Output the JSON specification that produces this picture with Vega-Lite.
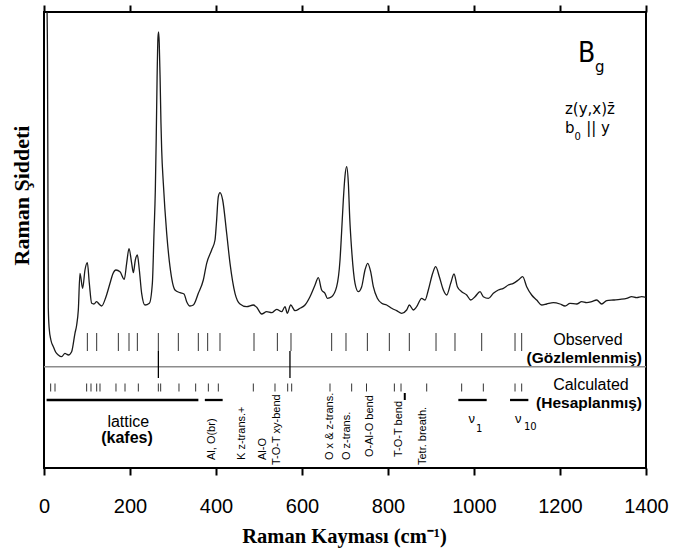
{
  "$schema": "https://vega.github.io/schema/vega-lite/v6.json",
  "width": 602,
  "height": 456,
  "autosize": {"type": "none"},
  "padding": {"left": 44, "top": 12, "right": 31, "bottom": 82},
  "background": "white",
  "config": {
    "view": {"stroke": "black", "strokeWidth": 2},
    "axis": {"grid": false, "domain": false, "tickColor": "black", "tickWidth": 2, "tickSize": 7}
  },
  "datasets": {
    "spectrum": [
      {"v": 6.5, "I": 470}, {"v": 8, "I": 420}, {"v": 9, "I": 300}, {"v": 10, "I": 160}, {"v": 12, "I": 140},
      {"v": 16, "I": 128}, {"v": 21.7, "I": 121.3}, {"v": 27, "I": 116}, {"v": 33.3, "I": 113}, {"v": 41, "I": 111.3},
      {"v": 48.8, "I": 114.7}, {"v": 52, "I": 114}, {"v": 56.6, "I": 113}, {"v": 64.3, "I": 116.3}, {"v": 72, "I": 134.7},
      {"v": 76, "I": 143}, {"v": 79.8, "I": 158}, {"v": 83.7, "I": 194.7}, {"v": 89.9, "I": 179.7}, {"v": 95.3, "I": 198},
      {"v": 100.8, "I": 205.3}, {"v": 105.4, "I": 184.7}, {"v": 110.9, "I": 164.7}, {"v": 116, "I": 164}, {"v": 122.5, "I": 166.3},
      {"v": 128, "I": 164}, {"v": 134.1, "I": 162}, {"v": 144.2, "I": 171.3}, {"v": 153.5, "I": 184.7}, {"v": 160, "I": 194},
      {"v": 167.4, "I": 198}, {"v": 176.7, "I": 196.3}, {"v": 186.8, "I": 188.7}, {"v": 192.2, "I": 204.7}, {"v": 197.7, "I": 219.3},
      {"v": 203.9, "I": 204.7}, {"v": 207.8, "I": 195.3}, {"v": 212.4, "I": 208}, {"v": 217.1, "I": 213}, {"v": 221.7, "I": 198},
      {"v": 227.1, "I": 174.7}, {"v": 234.9, "I": 163}, {"v": 245, "I": 164.7}, {"v": 252, "I": 184.7}, {"v": 255.8, "I": 234.7},
      {"v": 258.9, "I": 278}, {"v": 261, "I": 330}, {"v": 263, "I": 390}, {"v": 265, "I": 430}, {"v": 266.5, "I": 436},
      {"v": 268, "I": 425}, {"v": 270, "I": 390}, {"v": 272, "I": 345}, {"v": 273.7, "I": 318}, {"v": 277.5, "I": 284.7},
      {"v": 285.3, "I": 234.7}, {"v": 293, "I": 201.3}, {"v": 304.6, "I": 178}, {"v": 316.3, "I": 175.3}, {"v": 325.6, "I": 174},
      {"v": 331.8, "I": 166.3}, {"v": 339.5, "I": 162}, {"v": 347.3, "I": 163}, {"v": 358.9, "I": 174.7}, {"v": 370.5, "I": 188},
      {"v": 378.3, "I": 204.7}, {"v": 389.9, "I": 218}, {"v": 397.7, "I": 228}, {"v": 401, "I": 245}, {"v": 405.4, "I": 271.3},
      {"v": 409.3, "I": 275.3}, {"v": 415.5, "I": 268}, {"v": 424.8, "I": 234.7}, {"v": 432.6, "I": 204.7}, {"v": 444.2, "I": 174.7},
      {"v": 455.8, "I": 164}, {"v": 471.3, "I": 161.3}, {"v": 486.8, "I": 163}, {"v": 494.6, "I": 160.7}, {"v": 506.2, "I": 154},
      {"v": 517.8, "I": 156.3}, {"v": 529.5, "I": 155.3}, {"v": 541.1, "I": 158.7}, {"v": 552.7, "I": 156.3}, {"v": 560.5, "I": 161.3},
      {"v": 565.9, "I": 154.7}, {"v": 573.7, "I": 163}, {"v": 583.7, "I": 157.3}, {"v": 595.4, "I": 159.7}, {"v": 607, "I": 163},
      {"v": 618.6, "I": 171.3}, {"v": 630.3, "I": 183}, {"v": 638, "I": 190.3}, {"v": 645.7, "I": 178}, {"v": 653.5, "I": 174.7},
      {"v": 658.9, "I": 169.7}, {"v": 669, "I": 171.3}, {"v": 680.6, "I": 181.3}, {"v": 688.4, "I": 208}, {"v": 692, "I": 235},
      {"v": 696.1, "I": 268}, {"v": 700, "I": 292}, {"v": 703.9, "I": 301.3}, {"v": 707.8, "I": 284.7}, {"v": 711, "I": 250},
      {"v": 715.5, "I": 218}, {"v": 723.3, "I": 184.7}, {"v": 731, "I": 176.3}, {"v": 738.8, "I": 181.3}, {"v": 746.5, "I": 198},
      {"v": 752.7, "I": 204.7}, {"v": 759.7, "I": 196.3}, {"v": 765.9, "I": 181.3}, {"v": 775.2, "I": 169.7}, {"v": 785.3, "I": 164.7},
      {"v": 796.9, "I": 163}, {"v": 808.6, "I": 159.7}, {"v": 820.2, "I": 157.3}, {"v": 831.8, "I": 154.7}, {"v": 843.4, "I": 158},
      {"v": 849.6, "I": 163}, {"v": 859, "I": 158}, {"v": 866.7, "I": 161.3}, {"v": 878.3, "I": 169.7}, {"v": 886.1, "I": 168},
      {"v": 893.8, "I": 178}, {"v": 903.9, "I": 194.7}, {"v": 910.9, "I": 201.3}, {"v": 919.4, "I": 191.3}, {"v": 928.7, "I": 178},
      {"v": 936.5, "I": 173}, {"v": 945.8, "I": 184.7}, {"v": 953.5, "I": 194}, {"v": 961.3, "I": 181.3}, {"v": 971.3, "I": 176.3},
      {"v": 983, "I": 173}, {"v": 992.3, "I": 168}, {"v": 1002.4, "I": 171.3}, {"v": 1014, "I": 176.3}, {"v": 1021.7, "I": 171.3},
      {"v": 1033.4, "I": 169.7}, {"v": 1045, "I": 174.7}, {"v": 1056.6, "I": 178}, {"v": 1068.3, "I": 179.7}, {"v": 1079.9, "I": 183},
      {"v": 1091.5, "I": 184.7}, {"v": 1103.1, "I": 188}, {"v": 1113.2, "I": 191.3}, {"v": 1122.5, "I": 181.3}, {"v": 1134.1, "I": 173},
      {"v": 1145.8, "I": 168}, {"v": 1157.4, "I": 163}, {"v": 1169, "I": 164}, {"v": 1184.5, "I": 165.3}, {"v": 1200, "I": 164},
      {"v": 1211.7, "I": 162}, {"v": 1223.3, "I": 164.7}, {"v": 1238.8, "I": 164}, {"v": 1250.4, "I": 166.3}, {"v": 1262.1, "I": 165.3},
      {"v": 1273.7, "I": 166.3}, {"v": 1285.3, "I": 168}, {"v": 1297, "I": 164}, {"v": 1308.6, "I": 167.3}, {"v": 1324.1, "I": 168},
      {"v": 1339.6, "I": 168.7}, {"v": 1355.1, "I": 169.7}, {"v": 1366.7, "I": 171.3}, {"v": 1378.3, "I": 170.3}, {"v": 1390, "I": 171.3},
      {"v": 1400, "I": 170.7}
    ],
    "observed": [
      {"v": 100.8}, {"v": 122.5}, {"v": 172.9}, {"v": 197.7}, {"v": 217.1}, {"v": 265.9}, {"v": 312.4}, {"v": 358.9},
      {"v": 380.6}, {"v": 409.3}, {"v": 488.4}, {"v": 542.7}, {"v": 574.4}, {"v": 669}, {"v": 702.3}, {"v": 752},
      {"v": 803.1}, {"v": 849.6}, {"v": 911.7}, {"v": 955.8}, {"v": 1017.9}, {"v": 1095.4}, {"v": 1110.9}
    ],
    "calculated": [
      {"v": 15.5}, {"v": 25.6}, {"v": 99.2}, {"v": 109.3}, {"v": 122.5}, {"v": 130.2}, {"v": 167.4}, {"v": 188.4},
      {"v": 219.4}, {"v": 265.9}, {"v": 271.3}, {"v": 313.9}, {"v": 352.7}, {"v": 382.2}, {"v": 405.4}, {"v": 486.8},
      {"v": 537.2}, {"v": 566.7}, {"v": 576}, {"v": 665.1}, {"v": 715.5}, {"v": 750}, {"v": 814.8}, {"v": 830.3},
      {"v": 890}, {"v": 971.3}, {"v": 1021.7}, {"v": 1095.4}, {"v": 1110.9}
    ],
    "crossing": [{"v": 266}, {"v": 572}],
    "bars": [
      {"group": "lattice", "v": 6, "v2": 359},
      {"group": "Al, O(br)", "v": 374, "v2": 415.5},
      {"group": "v1", "v": 963.6, "v2": 1029.5},
      {"group": "v10", "v": 1083.8, "v2": 1126.4}
    ],
    "rotlabels": [
      {"label": "Al,  O(br)", "v": 391.5, "y": 8},
      {"label": "K  z-trans.+", "v": 461, "y": 8},
      {"label": "Al-O", "v": 510, "y": 8},
      {"label": "T-O-T xy-bend", "v": 541, "y": 3},
      {"label": "O x & z-trans.", "v": 665, "y": 8},
      {"label": "O  z-trans.", "v": 705, "y": 8},
      {"label": "O-Al-O bend", "v": 758, "y": 11},
      {"label": "T-O-T bend", "v": 826, "y": 11},
      {"label": "Tetr.  breath.", "v": 882, "y": 3}
    ]
  },
  "layer": [
    {
      "data": {"name": "spectrum"},
      "mark": {"type": "line", "color": "#1a1a1a", "strokeWidth": 1.3, "clip": true, "interpolate": "monotone"},
      "encoding": {
        "x": {"field": "v", "type": "quantitative", "scale": {"domain": [0, 1400], "nice": false},
          "axis": {"orient": "bottom", "values": [0, 200, 400, 600, 800, 1000, 1200, 1400], "format": "d", "labelFont": "Liberation Sans", "labelFontSize": 20, "labelColor": "black", "labelPadding": 21, "labelFlush": false,
            "title": "Raman Kayması (cm⁻¹)", "titleFont": "Liberation Serif", "titleFontWeight": "bold", "titleFontSize": 20.5, "titleColor": "black", "titleX": 300, "titleY": 74, "titleBaseline": "alphabetic", "titleAlign": "center"}},
        "y": {"field": "I", "type": "quantitative", "scale": {"domain": [0, 456], "nice": false},
          "axis": {"labels": false, "ticks": false, "title": "Raman Şiddeti", "titleFont": "Liberation Serif", "titleFontWeight": "bold", "titleFontSize": 22, "titleColor": "black", "titleX": -23, "titleY": 183, "titleBaseline": "middle", "titleAlign": "center", "titleAngle": 270}}
      }
    },
    {
      "data": {"name": "observed"},
      "mark": {"type": "rule", "color": "#333", "strokeWidth": 1},
      "encoding": {
        "x": {"field": "v", "type": "quantitative", "axis": {"orient": "top", "labels": false, "title": null, "values": [0, 200, 400, 600, 800, 1000, 1200, 1400]}},
        "y": {"datum": 117, "type": "quantitative", "axis": null},
        "y2": {"datum": 135}
      }
    },
    {
      "data": {"name": "calculated"},
      "mark": {"type": "rule", "color": "#333", "strokeWidth": 1},
      "encoding": {
        "x": {"field": "v", "type": "quantitative", "axis": null},
        "y": {"datum": 76.5, "type": "quantitative", "axis": null},
        "y2": {"datum": 84.5}
      }
    },
    {
      "data": {"values": [{"from": 0, "to": 1400}]},
      "mark": {"type": "rule", "color": "#8c8c8c", "strokeWidth": 1.6},
      "encoding": {
        "x": {"field": "from", "type": "quantitative", "axis": null},
        "x2": {"field": "to"},
        "y": {"datum": 101.3, "type": "quantitative", "axis": null}
      }
    },
    {
      "data": {"name": "crossing"},
      "mark": {"type": "rule", "color": "black", "strokeWidth": 1.3},
      "encoding": {
        "x": {"field": "v", "type": "quantitative", "axis": null},
        "y": {"datum": 90, "type": "quantitative", "axis": null},
        "y2": {"datum": 117}
      }
    },
    {
      "data": {"name": "bars"},
      "mark": {"type": "rule", "color": "black", "strokeWidth": 2.3},
      "encoding": {
        "x": {"field": "v", "type": "quantitative", "axis": null},
        "x2": {"field": "v2"},
        "y": {"datum": 68, "type": "quantitative", "axis": null}
      }
    },
    {
      "data": {"values": [{"v": 839}]},
      "mark": {"type": "rule", "color": "black", "strokeWidth": 2},
      "encoding": {
        "x": {"field": "v", "type": "quantitative", "axis": null},
        "y": {"datum": 68, "type": "quantitative", "axis": null},
        "y2": {"datum": 75}
      }
    },
    {
      "data": {"name": "rotlabels"},
      "mark": {"type": "text", "angle": 270, "align": "left", "baseline": "middle", "font": "Liberation Sans", "fontSize": 11, "color": "black"},
      "encoding": {
        "x": {"field": "v", "type": "quantitative", "axis": null},
        "y": {"field": "y", "type": "quantitative", "axis": null},
        "text": {"field": "label"}
      }
    },
    {
      "data": {"values": [
        {"label": "lattice", "v": 196, "y": 41},
        {"label": "Observed", "v": 1265, "y": 123},
        {"label": "Calculated", "v": 1272, "y": 78}
      ]},
      "mark": {"type": "text", "align": "center", "baseline": "alphabetic", "font": "Liberation Sans", "fontSize": 16, "color": "black"},
      "encoding": {
        "x": {"field": "v", "type": "quantitative", "axis": null},
        "y": {"field": "y", "type": "quantitative", "axis": null},
        "text": {"field": "label"}
      }
    },
    {
      "data": {"values": [{"label": "(kafes)", "v": 193, "y": 25}]},
      "mark": {"type": "text", "align": "center", "baseline": "alphabetic", "font": "Liberation Sans", "fontWeight": "bold", "fontSize": 16, "color": "black"},
      "encoding": {
        "x": {"field": "v", "type": "quantitative", "axis": null},
        "y": {"field": "y", "type": "quantitative", "axis": null},
        "text": {"field": "label"}
      }
    },
    {
      "data": {"values": [
        {"label": "(Gözlemlenmiş)", "v": 1390.7, "y": 105},
        {"label": "(Hesaplanmış)", "v": 1390.7, "y": 60.5}
      ]},
      "mark": {"type": "text", "align": "right", "baseline": "alphabetic", "font": "Liberation Sans", "fontWeight": "bold", "fontSize": 15.5, "color": "black"},
      "encoding": {
        "x": {"field": "v", "type": "quantitative", "axis": null},
        "y": {"field": "y", "type": "quantitative", "axis": null},
        "text": {"field": "label"}
      }
    },
    {
      "data": {"values": [{"label": "B", "v": 1242, "y": 406}]},
      "mark": {"type": "text", "align": "left", "baseline": "alphabetic", "font": "DejaVu Sans Condensed", "fontSize": 28, "color": "black"},
      "encoding": {
        "x": {"field": "v", "type": "quantitative", "axis": null},
        "y": {"field": "y", "type": "quantitative", "axis": null},
        "text": {"field": "label"}
      }
    },
    {
      "data": {"values": [
        {"label": "g", "v": 1281.4, "y": 396},
        {"label": "z(y,x)z̄", "v": 1211.6, "y": 354},
        {"label": "b", "v": 1211.6, "y": 335},
        {"label": "|| y", "v": 1261, "y": 335}
      ]},
      "mark": {"type": "text", "align": "left", "baseline": "alphabetic", "font": "DejaVu Sans", "fontSize": 15, "color": "black"},
      "encoding": {
        "x": {"field": "v", "type": "quantitative", "axis": null},
        "y": {"field": "y", "type": "quantitative", "axis": null},
        "text": {"field": "label"}
      }
    },
    {
      "data": {"values": [
        {"label": "0", "v": 1233.7, "y": 328},
        {"label": "1", "v": 1004.7, "y": 36.3},
        {"label": "10", "v": 1116, "y": 38}
      ]},
      "mark": {"type": "text", "align": "left", "baseline": "alphabetic", "font": "DejaVu Sans", "fontSize": 10, "color": "black"},
      "encoding": {
        "x": {"field": "v", "type": "quantitative", "axis": null},
        "y": {"field": "y", "type": "quantitative", "axis": null},
        "text": {"field": "label"}
      }
    },
    {
      "data": {"values": [
        {"label": "ν", "v": 994.7, "y": 44.7},
        {"label": "ν", "v": 1103, "y": 45}
      ]},
      "mark": {"type": "text", "align": "center", "baseline": "alphabetic", "font": "Liberation Sans", "fontSize": 13, "color": "black"},
      "encoding": {
        "x": {"field": "v", "type": "quantitative", "axis": null},
        "y": {"field": "y", "type": "quantitative", "axis": null},
        "text": {"field": "label"}
      }
    }
  ],
  "resolve": {"axis": {"x": "independent", "y": "independent"}}
}
